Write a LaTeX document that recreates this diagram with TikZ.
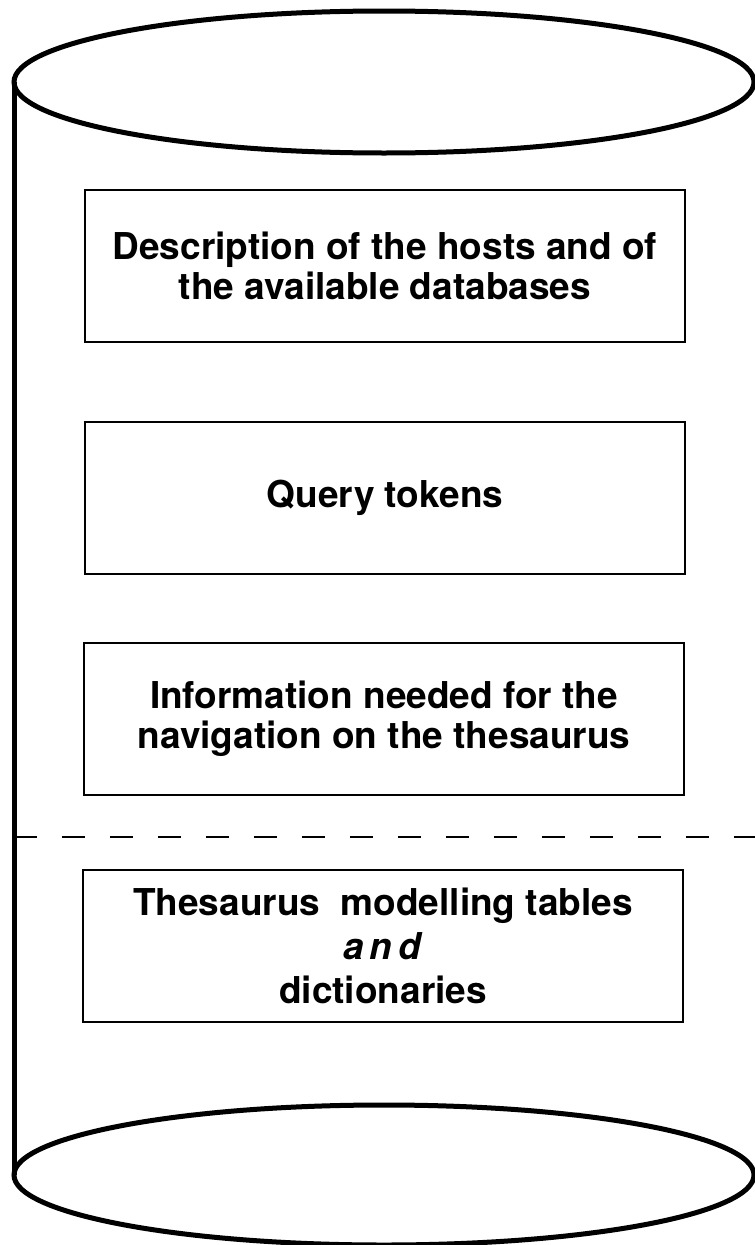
\documentclass[tikz,border=0pt]{standalone}
\usepackage{fontspec}
\setmainfont{TeX Gyre Heros}
\begin{document}
\begin{tikzpicture}[x=1pt,y=-1pt,
  wall/.style={line width=5pt},
  infobox/.style={draw,line width=2.2pt,minimum width=600pt,minimum height=152pt,
    align=center,inner sep=0pt,font=\fontsize{37}{40}\selectfont\bfseries},
  divider/.style={line width=2.4pt,dash pattern=on 23pt off 25pt}]
\useasboundingbox (0,0) rectangle (755,1245);
% cylinder outline
\draw[wall] (384,82) ellipse [x radius=370, y radius=71];
\draw[wall] (384,1175) ellipse [x radius=370, y radius=70];
\draw[wall] (14,82) -- (14,1175);
% stored contents
\node[infobox] (hosts) at (385,266) {Description of the hosts and of\\the available databases};
\node[infobox] (tokens) at (385,498) {\raisebox{5pt}{Query tokens}};
\node[infobox] (nav) at (384,719) {Information needed for the\\navigation on the thesaurus};
\node[infobox,font=\fontsize{37}{44}\selectfont\bfseries] (thes) at (383,946)
  {Thesaurus\ \ modelling tables\\\textit{a\,n\,d}\\dictionaries};
% separation between the two groups
\draw[divider] (14,837) -- (755,837);
\end{tikzpicture}
\end{document}
